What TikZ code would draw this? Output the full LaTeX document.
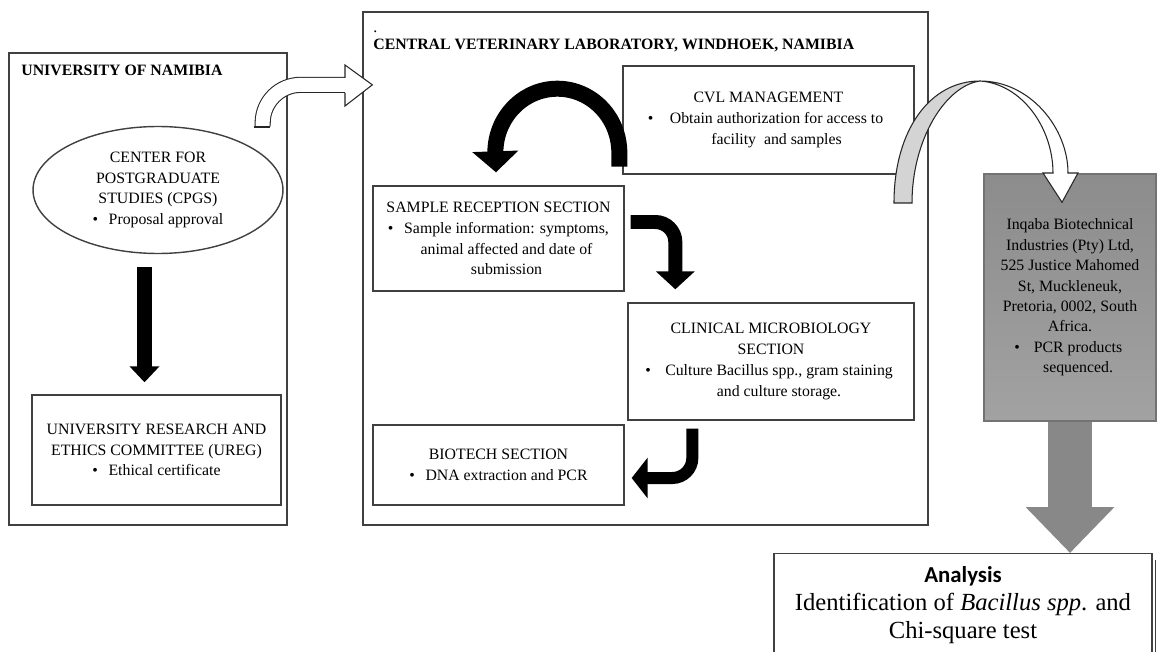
\documentclass[tikz,border=0pt]{standalone}
\usepackage{fontspec}
\setmainfont{Liberation Serif}
\newfontfamily\calibri{Carlito}
\usetikzlibrary{shapes.geometric,arrows.meta,calc}

\definecolor{arrowgray}{HTML}{888888}
\definecolor{boxtop}{HTML}{8C8C8C}
\definecolor{boxbottom}{HTML}{A2A2A2}
\definecolor{ribbon}{HTML}{D4D4D4}

\newcommand{\bitem}[2]{\textbullet\hspace{6pt}\parbox[t]{#1}{\centering #2}}

\tikzset{
  frame/.style={draw=black!75, line width=0.8pt},
  stage/.style={frame, align=center, inner sep=0pt, font=\fontsize{9}{11.8}\selectfont},
  head/.style={font=\fontsize{9}{11}\selectfont\bfseries, inner sep=0pt},
  blkarrow/.style={draw=black, line cap=butt},
  outline/.style={line width=0.6pt, draw=black!85}
}

\begin{document}
\begin{tikzpicture}[x=0.02cm, y=-0.02cm]
	\useasboundingbox (0,0) rectangle (1157,652);
	\clip (0,0) rectangle (1157,652);
	
	% university
	\node[frame, minimum width=5.56cm, minimum height=9.44cm] (unam) at (148,289) {};
	\node[head, anchor=base west] (unamtitle) at (21,76) {UNIVERSITY OF NAMIBIA};
	\node[stage, ellipse, minimum width=5cm, minimum height=2.54cm] (cpgs) at (158,190) {CENTER FOR\\POSTGRADUATE\\STUDIES (CPGS)\\\textbullet\hspace{6pt}Proposal approval};
	\node[stage, minimum width=4.98cm, minimum height=2.2cm] (ureg) at (156.5,450) {UNIVERSITY RESEARCH AND\\ETHICS COMMITTEE (UREG)\\\textbullet\hspace{6pt}Ethical certificate};
	\draw[blkarrow, line width=0.3cm, -{Triangle[width=0.58cm,length=0.32cm]}] ($(cpgs.south)+(-13.5,13)$) -- ($(ureg.north)+(-12,-12)$);
	
	% laboratory
	\node[frame, minimum width=11.3cm, minimum height=10.26cm] (cvl) at (645.5,268.5) {};
	\node[inner sep=0pt, anchor=base west, font=\fontsize{9}{11}\selectfont] (dot) at (373,33) {.};
	\node[head, anchor=base west] (cvltitle) at (373,50) {CENTRAL VETERINARY LABORATORY, WINDHOEK, NAMIBIA};
	\node[stage, minimum width=5.82cm, minimum height=2.16cm] (cvlm) at (768.5,120) {CVL MANAGEMENT\\\bitem{4.5cm}{Obtain authorization for access to\\facility\ \ and samples}};
	\node[stage, minimum width=5.02cm, minimum height=2.1cm] (sample) at (498.5,238.5) {SAMPLE RECEPTION SECTION\\\bitem{4.1cm}{Sample information: symptoms,\\animal affected and date of\\submission}};
	\node[stage, minimum width=5.72cm, minimum height=2.34cm] (clinical) at (771,361.5) {CLINICAL MICROBIOLOGY\\SECTION\\\bitem{4.7cm}{Culture Bacillus spp., gram staining\\and culture storage.}};
	\node[stage, minimum width=5.02cm, minimum height=1.6cm] (biotech) at (498.5,465) {BIOTECH SECTION\\\textbullet\hspace{6pt}DNA extraction and PCR};
	
	\draw[blkarrow, line width=0.32cm, -{Triangle[width=0.9cm,length=0.42cm]}] ($(cvlm.south west)+(-3,-8)$) -- ++(0,-14) arc[start angle=0, end angle=180, x radius=1.24cm, y radius=1.28cm] -- ($(sample.north)+(-2.5,-13)$);
	\draw[blkarrow, line width=0.28cm, rounded corners=0.4cm, -{Triangle[width=0.76cm,length=0.36cm]}] ($(sample.east)+(6,-16.5)$) -| ($(clinical.north west)+(48,-13)$);
	\draw[blkarrow, line width=0.24cm, rounded corners=0.4cm, -{Triangle[width=0.8cm,length=0.32cm]}] ($(clinical.south west)+(65,8)$) |- ($(biotech.east)+(7,13)$);
	
	% university -> laboratory
	\draw[outline, double=white, double distance=0.28cm, rounded corners=0.76cm] ($(unam.north east)+(-25,74)$) |- ++(83,-41.5);
	\filldraw[outline, fill=white] (345,78) -- (345,65) -- ($(cvl.north west)+(10,73.5)$) -- (345,106) -- (345,93);
	\draw[outline] (254,127) -- (270,127);
	
	% sequencing and analysis
	\node[stage, draw=black!55, top color=boxtop, bottom color=boxbottom, minimum width=3.44cm, minimum height=4.94cm, font=\fontsize{9}{11.6}\selectfont] (inqaba) at (1070,297.5) {Inqaba Biotechnical\\Industries (Pty) Ltd,\\525 Justice Mahomed\\St, Muckleneuk,\\Pretoria, 0002, South\\Africa.\\\bitem{1.9cm}{PCR products\\sequenced.}};
	\node[frame, anchor=north, align=center, minimum width=7.56cm, inner xsep=0pt, inner ysep=0.26cm, font=\fontsize{14}{16}\selectfont] (analysis) at (963,553) {{\calibri\bfseries\fontsize{13}{16}\selectfont Analysis}\\Identification of \textit{Bacillus spp}. and\\Chi-square test};
	\draw[frame] ($(analysis.north east)+(3,7)$) -- ($(analysis.south east)+(3,0)$);
	\draw[draw=arrowgray, line width=0.88cm, -{Triangle[width=1.72cm,length=0.92cm]}] (inqaba.south) -- (inqaba.south |- analysis.north);
	
	\coordinate (ribbontip) at ($(inqaba.north)+(-8,29)$);
	\filldraw[outline, fill=ribbon] (894,203) .. controls (894,130) and (930,81) .. (980,81) .. controls (945,86) and (912,140) .. (912,203) -- cycle;
	\filldraw[outline, fill=white] (980,81) .. controls (1030,81) and (1068,128) .. (1068,173) -- (1078,173) -- (ribbontip) -- (1043,173) -- (1053,173) .. controls (1053,128) and (1022,84) .. (980,81) -- cycle;
\end{tikzpicture}
\end{document}
